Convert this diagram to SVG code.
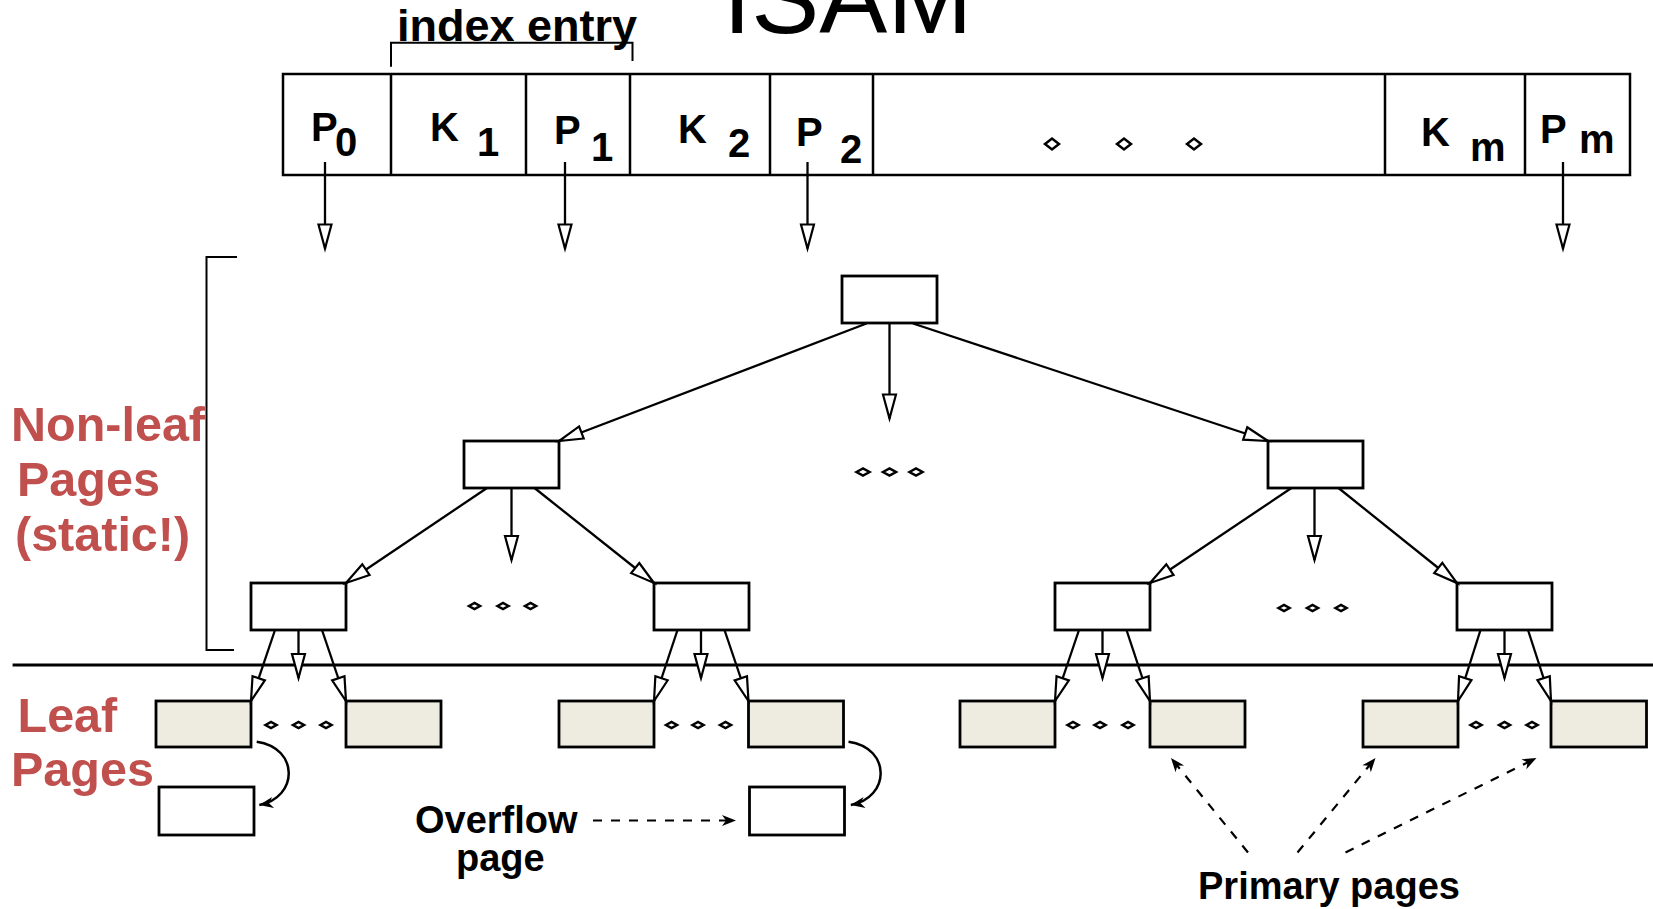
<svg xmlns="http://www.w3.org/2000/svg" xmlns:xlink="http://www.w3.org/1999/xlink" width="1653" height="909" viewBox="0 0 1653 909">
<style>
.box{fill:#fff;stroke:#000;stroke-width:2.8}
.leaf{fill:#EEECE1;stroke:#000;stroke-width:2.8}
.cell{fill:none;stroke:#000;stroke-width:2.5}
.ln{fill:none;stroke:#000;stroke-width:2}
.arr{fill:none;stroke:#000;stroke-width:2.3;marker-end:url(#open)}
.dash{fill:none;stroke:#000;stroke-width:2.2;stroke-dasharray:9 9;marker-end:url(#fill)}
.curve{fill:none;stroke:#000;stroke-width:2.5;marker-end:url(#fill)}
.dot{fill:#fff;stroke:#000;stroke-width:2.5}
.t{font-family:"Liberation Sans",Arial,sans-serif;font-weight:bold;fill:#000}
.red{font-family:"Liberation Sans",Arial,sans-serif;font-weight:bold;fill:#C0504D;font-size:48.5px}
.cellt{font-size:40px}
</style>
<defs>
<marker id="open" markerUnits="userSpaceOnUse" viewBox="-26 -9 28 18" refX="0" refY="0" markerWidth="28" markerHeight="18" orient="auto" overflow="visible">
<path d="M-24,-6.5 L0,0 L-24,6.5 Z" fill="#fff" stroke="#000" stroke-width="2.2"/>
</marker>
<marker id="fill" markerUnits="userSpaceOnUse" viewBox="-16 -7 18 14" refX="0" refY="0" markerWidth="18" markerHeight="14" orient="auto" overflow="visible">
<path d="M-14,-5.5 L0,0 L-14,5.5 L-10,0 Z" fill="#000"/>
</marker>
<path id="dmS" d="M-5.5,0 L0,-3 L5.5,0 L0,3 Z" class="dot"/>
<path id="dmM" d="M-6.5,0 L0,-3.5 L6.5,0 L0,3.5 Z" class="dot"/>
<path id="dmL" d="M-7,0 L0,-5.5 L7,0 L0,5.5 Z" class="dot"/>
</defs>

<g id="title">
<text x="723" y="33" style="font-family:'Liberation Sans',Arial,sans-serif;font-size:102px;fill:#000">ISAM</text>
</g>

<g id="index-entry">
<text class="t" x="397" y="41" style="font-size:45px">index entry</text>
<path class="ln" d="M391,66.7 V42.7 H632.5 V61" stroke-width="2.5"/>
</g>

<g id="index-page">
<rect class="cell" x="283" y="74" width="1347" height="101"/>
<path class="cell" d="M391,74V175 M526,74V175 M630,74V175 M770,74V175 M873,74V175 M1385,74V175 M1525,74V175"/>
<text class="t cellt" x="311" y="141">P</text><text class="t cellt" x="335" y="156">0</text>
<text class="t cellt" x="430" y="141">K</text><text class="t cellt" x="477" y="156">1</text>
<text class="t cellt" x="554" y="144">P</text><text class="t cellt" x="591" y="161">1</text>
<text class="t cellt" x="678" y="143">K</text><text class="t cellt" x="728" y="157">2</text>
<text class="t cellt" x="796" y="146">P</text><text class="t cellt" x="840" y="163">2</text>
<text class="t cellt" x="1421" y="146">K</text><text class="t cellt" x="1470" y="161">m</text>
<text class="t cellt" x="1540" y="143">P</text><text class="t cellt" x="1579" y="153">m</text>
<use xlink:href="#dmL" x="1052" y="144"/>
<use xlink:href="#dmL" x="1124" y="144"/>
<use xlink:href="#dmL" x="1194" y="144"/>
</g>

<g id="nonleaf-label">
<path class="ln" d="M237,257 H206.5 V650 H234" stroke-width="2.5"/>
<text class="red" x="11" y="441">Non-leaf</text>
<text class="red" x="17" y="496">Pages</text>
<text class="red" x="15" y="551">(static!)</text>
</g>

<g id="leaf-label">
<text class="red" x="17.5" y="732">Leaf</text>
<text class="red" x="11" y="786">Pages</text>
</g>

<g id="divider">
<line x1="12.6" y1="665" x2="1653" y2="665" stroke="#000" stroke-width="3"/>
</g>

<g id="root"><rect class="box" x="842" y="276" width="95" height="47"/></g>
<g id="n1-left"><rect class="box" x="464" y="441" width="95" height="47"/></g>
<g id="n1-right"><rect class="box" x="1268" y="441" width="95" height="47"/></g>
<g id="n2-a"><rect class="box" x="251" y="583" width="95" height="47"/></g>
<g id="n2-b"><rect class="box" x="654" y="583" width="95" height="47"/></g>
<g id="n2-c"><rect class="box" x="1055" y="583" width="95" height="47"/></g>
<g id="n2-d"><rect class="box" x="1457" y="583" width="95" height="47"/></g>

<g id="leaf-1"><rect class="leaf" x="156" y="701" width="95" height="46"/></g>
<g id="leaf-2"><rect class="leaf" x="346" y="701" width="95" height="46"/></g>
<g id="leaf-3"><rect class="leaf" x="559" y="701" width="95" height="46"/></g>
<g id="leaf-4"><rect class="leaf" x="748.5" y="701" width="95" height="46"/></g>
<g id="leaf-5"><rect class="leaf" x="960" y="701" width="95" height="46"/></g>
<g id="leaf-6"><rect class="leaf" x="1150" y="701" width="95" height="46"/></g>
<g id="leaf-7"><rect class="leaf" x="1363" y="701" width="95" height="46"/></g>
<g id="leaf-8"><rect class="leaf" x="1551" y="701" width="95.5" height="46"/></g>

<g id="overflow-1"><rect class="box" x="159" y="787" width="95" height="48"/></g>
<g id="overflow-2"><rect class="box" x="749.5" y="787" width="95" height="48"/></g>

<g id="ellipses">
<use xlink:href="#dmM" x="863" y="472"/><use xlink:href="#dmM" x="889.5" y="472"/><use xlink:href="#dmM" x="916" y="472"/>
<use xlink:href="#dmS" x="474.5" y="606"/><use xlink:href="#dmS" x="503" y="606"/><use xlink:href="#dmS" x="530.5" y="606"/>
<use xlink:href="#dmS" x="1284" y="608"/><use xlink:href="#dmS" x="1312.5" y="608"/><use xlink:href="#dmS" x="1341" y="608"/>
<use xlink:href="#dmS" x="271" y="725"/><use xlink:href="#dmS" x="298.5" y="725"/><use xlink:href="#dmS" x="326" y="725"/>
<use xlink:href="#dmS" x="671.5" y="725"/><use xlink:href="#dmS" x="698" y="725"/><use xlink:href="#dmS" x="725.5" y="725"/>
<use xlink:href="#dmS" x="1073" y="725"/><use xlink:href="#dmS" x="1100" y="725"/><use xlink:href="#dmS" x="1128" y="725"/>
<use xlink:href="#dmS" x="1476" y="725"/><use xlink:href="#dmS" x="1504.5" y="725"/><use xlink:href="#dmS" x="1532" y="725"/>
</g>

<g id="texts">
<text class="t" x="415" y="833" style="font-size:38px">Overflow</text>
<text class="t" x="456" y="871" style="font-size:38px">page</text>
<text class="t" x="1198" y="899" style="font-size:38px">Primary pages</text>
</g>

<g id="connectors">
<line class="arr" x1="325" y1="162" x2="325" y2="248.5"/>
<line class="arr" x1="565" y1="162" x2="565" y2="248.5"/>
<line class="arr" x1="807.5" y1="162" x2="807.5" y2="248.5"/>
<line class="arr" x1="1563" y1="162" x2="1563" y2="248.5"/>

<line class="arr" x1="866.5" y1="323.5" x2="559" y2="441"/>
<line class="arr" x1="889.5" y1="323.5" x2="889.5" y2="418.5"/>
<line class="arr" x1="913" y1="323.5" x2="1268" y2="441"/>

<line class="arr" x1="487" y1="488" x2="346" y2="583"/>
<line class="arr" x1="511.5" y1="488" x2="511.5" y2="560"/>
<line class="arr" x1="534.5" y1="488" x2="654" y2="583"/>

<line class="arr" x1="1291.5" y1="488" x2="1150" y2="583"/>
<line class="arr" x1="1314.5" y1="488" x2="1314.5" y2="560"/>
<line class="arr" x1="1338.5" y1="488" x2="1457" y2="583"/>

<line class="arr" x1="275" y1="630" x2="251" y2="701"/>
<line class="arr" x1="298.5" y1="630" x2="298.5" y2="678"/>
<line class="arr" x1="322" y1="630" x2="346" y2="701"/>

<line class="arr" x1="677.5" y1="630" x2="654" y2="701"/>
<line class="arr" x1="701" y1="630" x2="701" y2="678"/>
<line class="arr" x1="724.5" y1="630" x2="748.5" y2="701"/>

<line class="arr" x1="1079" y1="630" x2="1055" y2="701"/>
<line class="arr" x1="1102.5" y1="630" x2="1102.5" y2="678"/>
<line class="arr" x1="1126.5" y1="630" x2="1150" y2="701"/>

<line class="arr" x1="1480.5" y1="630" x2="1458" y2="701"/>
<line class="arr" x1="1504.5" y1="630" x2="1504.5" y2="678"/>
<line class="arr" x1="1528" y1="630" x2="1551" y2="701"/>

<path class="curve" d="M256.7,741.7 C300,748 298,798 259.3,805"/>
<path class="curve" d="M848.5,741.7 C892,748 890,798 850.8,805"/>

<line class="dash" x1="593" y1="820.5" x2="736" y2="820.5"/>
<line class="dash" x1="1248" y1="852.5" x2="1171" y2="758"/>
<line class="dash" x1="1297.5" y1="852.5" x2="1375.5" y2="758"/>
<line class="dash" x1="1345.5" y1="852.5" x2="1536.5" y2="758"/>
</g>
</svg>
